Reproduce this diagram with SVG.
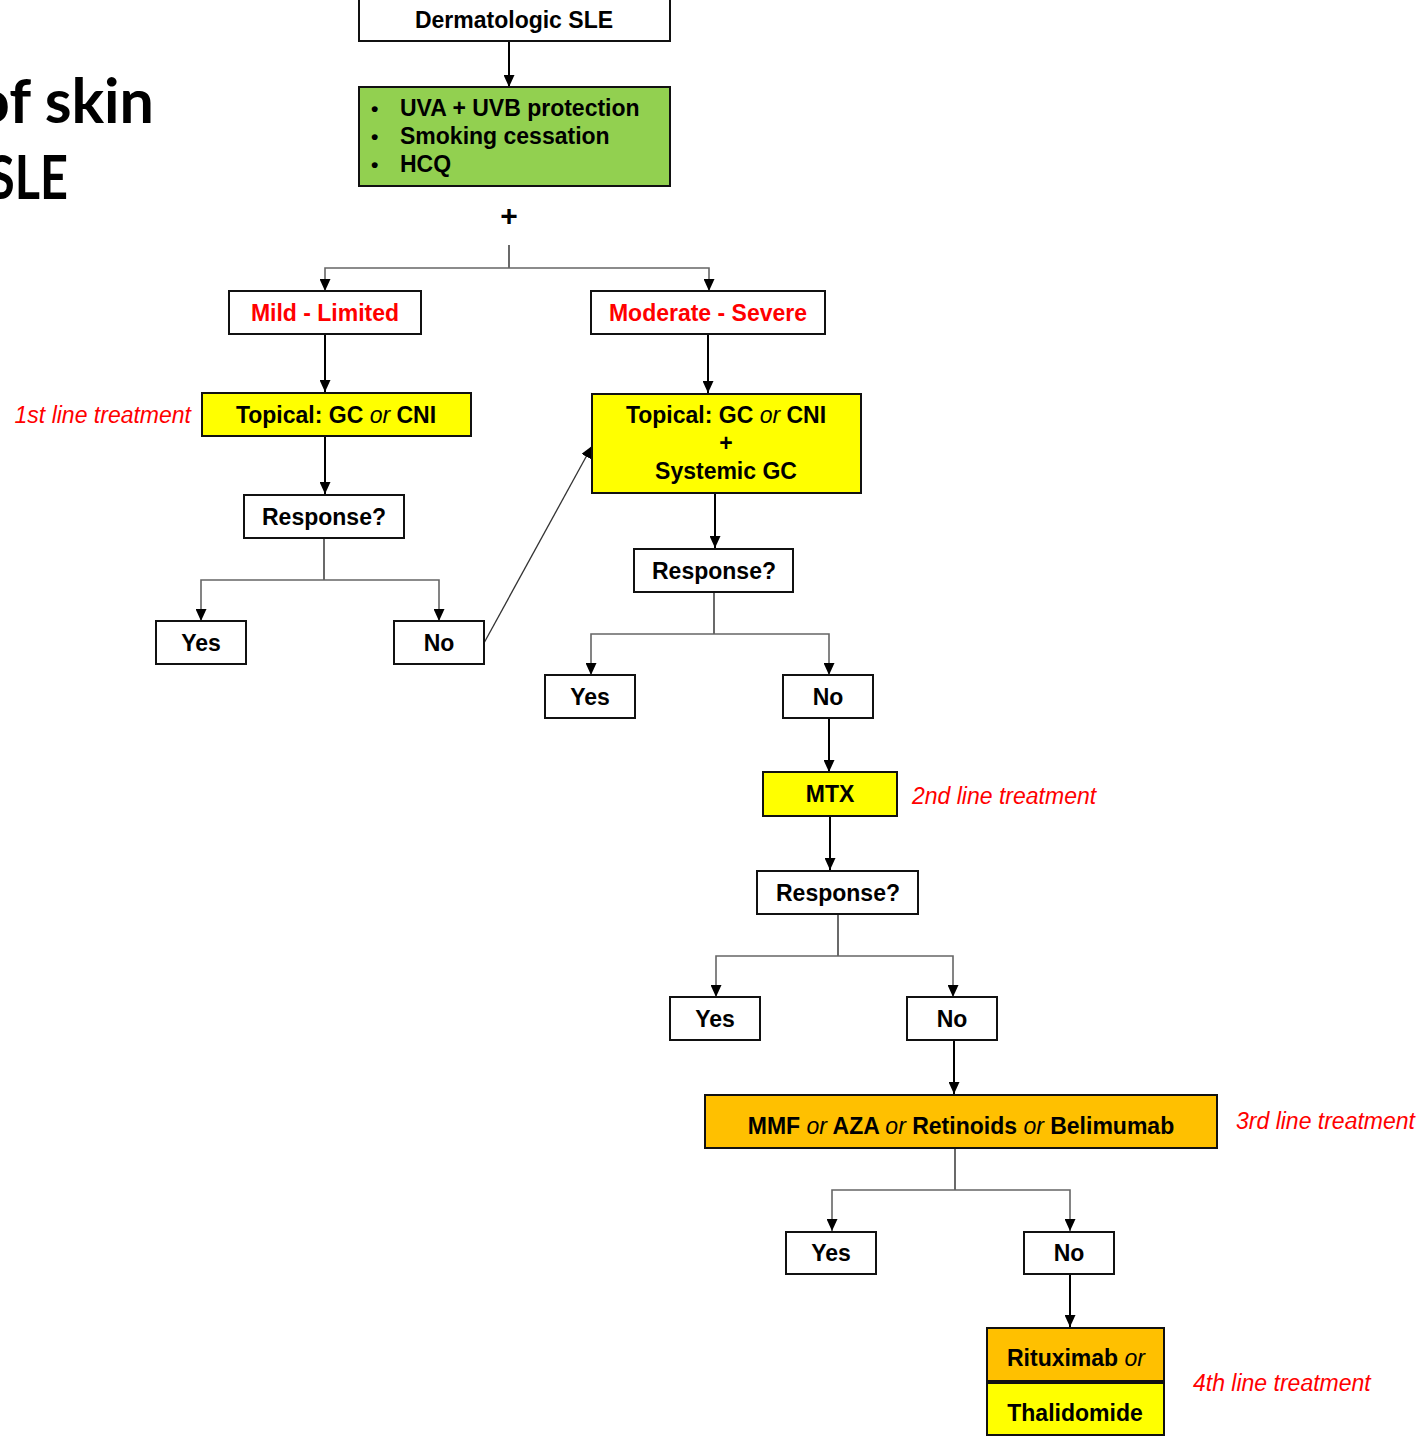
<svg xmlns="http://www.w3.org/2000/svg" width="1427" height="1440" viewBox="0 0 1427 1440">
<defs>
<marker id="ah" markerUnits="userSpaceOnUse" markerWidth="13" markerHeight="11" refX="12" refY="5.5" orient="auto">
<path d="M0,0 L12,5.5 L0,11 z" fill="#000"/>
</marker>
<style>
.box{stroke:#111;stroke-width:2}
.w{fill:#fff}
.y{fill:#ffff00}
.g{fill:#92d050}
.o{fill:#ffc000}
.t{font-family:"Liberation Sans",Arial,sans-serif;font-size:23px;font-weight:bold;fill:#000;text-anchor:middle}
.red{fill:#ff0000}
.it{font-style:italic;font-weight:normal}
.lbl{font-family:"Liberation Sans",Arial,sans-serif;font-size:23px;font-style:italic;fill:#ff0000}
.title{font-family:Lato,"Open Sans",sans-serif;font-size:61px;font-weight:bold;fill:#000;text-anchor:end}
.arr{stroke:#000;stroke-width:2;fill:none;marker-end:url(#ah)}
.brs{stroke:#444;stroke-width:1.6;fill:none}
.bra{stroke:#666;stroke-width:1.6;fill:none;marker-end:url(#ah)}
</style>
</defs>
<rect width="1427" height="1440" fill="#fff"/>

<g id="title">
<text class="title" x="154" y="123">of skin</text>
<text class="title" x="68" y="199" textLength="80" lengthAdjust="spacingAndGlyphs">SLE</text>
</g>

<g id="connectors">
<line class="arr" x1="509" y1="42" x2="509" y2="87"/>
<polyline class="brs" points="509,245 509,268"/>
<polyline class="bra" points="509,268 325,268 325,291"/>
<polyline class="bra" points="509,268 709,268 709,291"/>
<line class="arr" x1="325" y1="335" x2="325" y2="392"/>
<line class="arr" x1="708" y1="335" x2="708" y2="393"/>
<line class="arr" x1="325" y1="437" x2="325" y2="494"/>
<polyline class="brs" points="324,539 324,580"/>
<polyline class="bra" points="324,580 201,580 201,621"/>
<polyline class="bra" points="324,580 439,580 439,621"/>
<line stroke="#333" stroke-width="1.3" marker-end="url(#ah)" x1="484" y1="643" x2="592" y2="446"/>
<line class="arr" x1="715" y1="494" x2="715" y2="548"/>
<polyline class="brs" points="714,593 714,634"/>
<polyline class="bra" points="714,634 591,634 591,675"/>
<polyline class="bra" points="714,634 829,634 829,675"/>
<line class="arr" x1="829" y1="719" x2="829" y2="772"/>
<line class="arr" x1="830" y1="817" x2="830" y2="870"/>
<polyline class="brs" points="838,915 838,956"/>
<polyline class="bra" points="838,956 716,956 716,997"/>
<polyline class="bra" points="838,956 953,956 953,997"/>
<line class="arr" x1="954" y1="1041" x2="954" y2="1094"/>
<polyline class="brs" points="955,1149 955,1190"/>
<polyline class="bra" points="955,1190 832,1190 832,1231"/>
<polyline class="bra" points="955,1190 1070,1190 1070,1231"/>
<line class="arr" x1="1070" y1="1275" x2="1070" y2="1327"/>
</g>

<g id="n-derm">
<rect class="box w" x="359" y="-5" width="311" height="46"/>
<text class="t" x="514" y="28">Dermatologic SLE</text>
</g>

<g id="n-general">
<rect class="box g" x="359" y="87" width="311" height="99"/>
<g font-family="Liberation Sans,Arial,sans-serif" font-size="23" font-weight="bold" fill="#000">
<text x="371" y="116" font-size="21">•</text><text x="400" y="116">UVA + UVB protection</text>
<text x="371" y="144" font-size="21">•</text><text x="400" y="144">Smoking cessation</text>
<text x="371" y="172" font-size="21">•</text><text x="400" y="172">HCQ</text>
</g>
</g>

<g id="n-plus">
<text class="t" x="509" y="226" style="font-size:30px">+</text>
</g>

<g id="n-mild">
<rect class="box w" x="229" y="291" width="192" height="43"/>
<text class="t red" x="325" y="321">Mild - Limited</text>
</g>

<g id="n-moderate">
<rect class="box w" x="591" y="291" width="234" height="43"/>
<text class="t red" x="708" y="321">Moderate - Severe</text>
</g>

<g id="n-topical1">
<rect class="box y" x="202" y="393" width="269" height="43"/>
<text class="t" x="336" y="423">Topical: GC <tspan class="it">or</tspan> CNI</text>
</g>
<g id="lbl-1st">
<text class="lbl" x="191" y="423" text-anchor="end">1st line treatment</text>
</g>

<g id="n-topical2">
<rect class="box y" x="592" y="394" width="269" height="99"/>
<text class="t" x="726" y="423">Topical: GC <tspan class="it">or</tspan> CNI</text>
<text class="t" x="726" y="451">+</text>
<text class="t" x="726" y="479">Systemic GC</text>
</g>

<g id="n-resp1">
<rect class="box w" x="244" y="495" width="160" height="43"/>
<text class="t" x="324" y="525">Response?</text>
</g>
<g id="n-yes1">
<rect class="box w" x="156" y="621" width="90" height="43"/>
<text class="t" x="201" y="651">Yes</text>
</g>
<g id="n-no1">
<rect class="box w" x="394" y="621" width="90" height="43"/>
<text class="t" x="439" y="651">No</text>
</g>

<g id="n-resp2">
<rect class="box w" x="634" y="549" width="159" height="43"/>
<text class="t" x="714" y="579">Response?</text>
</g>
<g id="n-yes2">
<rect class="box w" x="545" y="675" width="90" height="43"/>
<text class="t" x="590" y="705">Yes</text>
</g>
<g id="n-no2">
<rect class="box w" x="783" y="675" width="90" height="43"/>
<text class="t" x="828" y="705">No</text>
</g>

<g id="n-mtx">
<rect class="box y" x="763" y="772" width="134" height="44"/>
<text class="t" x="830" y="802">MTX</text>
</g>
<g id="lbl-2nd">
<text class="lbl" x="912" y="804">2nd line treatment</text>
</g>

<g id="n-resp3">
<rect class="box w" x="757" y="871" width="161" height="43"/>
<text class="t" x="838" y="901">Response?</text>
</g>
<g id="n-yes3">
<rect class="box w" x="670" y="997" width="90" height="43"/>
<text class="t" x="715" y="1027">Yes</text>
</g>
<g id="n-no3">
<rect class="box w" x="907" y="997" width="90" height="43"/>
<text class="t" x="952" y="1027">No</text>
</g>

<g id="n-mmf">
<rect class="box o" x="705" y="1095" width="512" height="53"/>
<text class="t" x="961" y="1134">MMF <tspan class="it">or</tspan> AZA <tspan class="it">or</tspan> Retinoids <tspan class="it">or</tspan> Belimumab</text>
</g>
<g id="lbl-3rd">
<text class="lbl" x="1236" y="1129">3rd line treatment</text>
</g>

<g id="n-yes4">
<rect class="box w" x="786" y="1232" width="90" height="42"/>
<text class="t" x="831" y="1261">Yes</text>
</g>
<g id="n-no4">
<rect class="box w" x="1024" y="1232" width="90" height="42"/>
<text class="t" x="1069" y="1261">No</text>
</g>

<g id="n-ritux">
<rect class="box o" x="987" y="1328" width="177" height="53"/>
<text class="t" x="1076" y="1366">Rituximab <tspan class="it">or</tspan></text>
</g>
<g id="n-thal">
<rect class="box y" x="987" y="1383" width="177" height="52"/>
<line x1="987" y1="1382" x2="1164" y2="1382" stroke="#111" stroke-width="3"/>
<text class="t" x="1075" y="1421">Thalidomide</text>
</g>
<g id="lbl-4th">
<text class="lbl" x="1193" y="1391">4th line treatment</text>
</g>
</svg>
